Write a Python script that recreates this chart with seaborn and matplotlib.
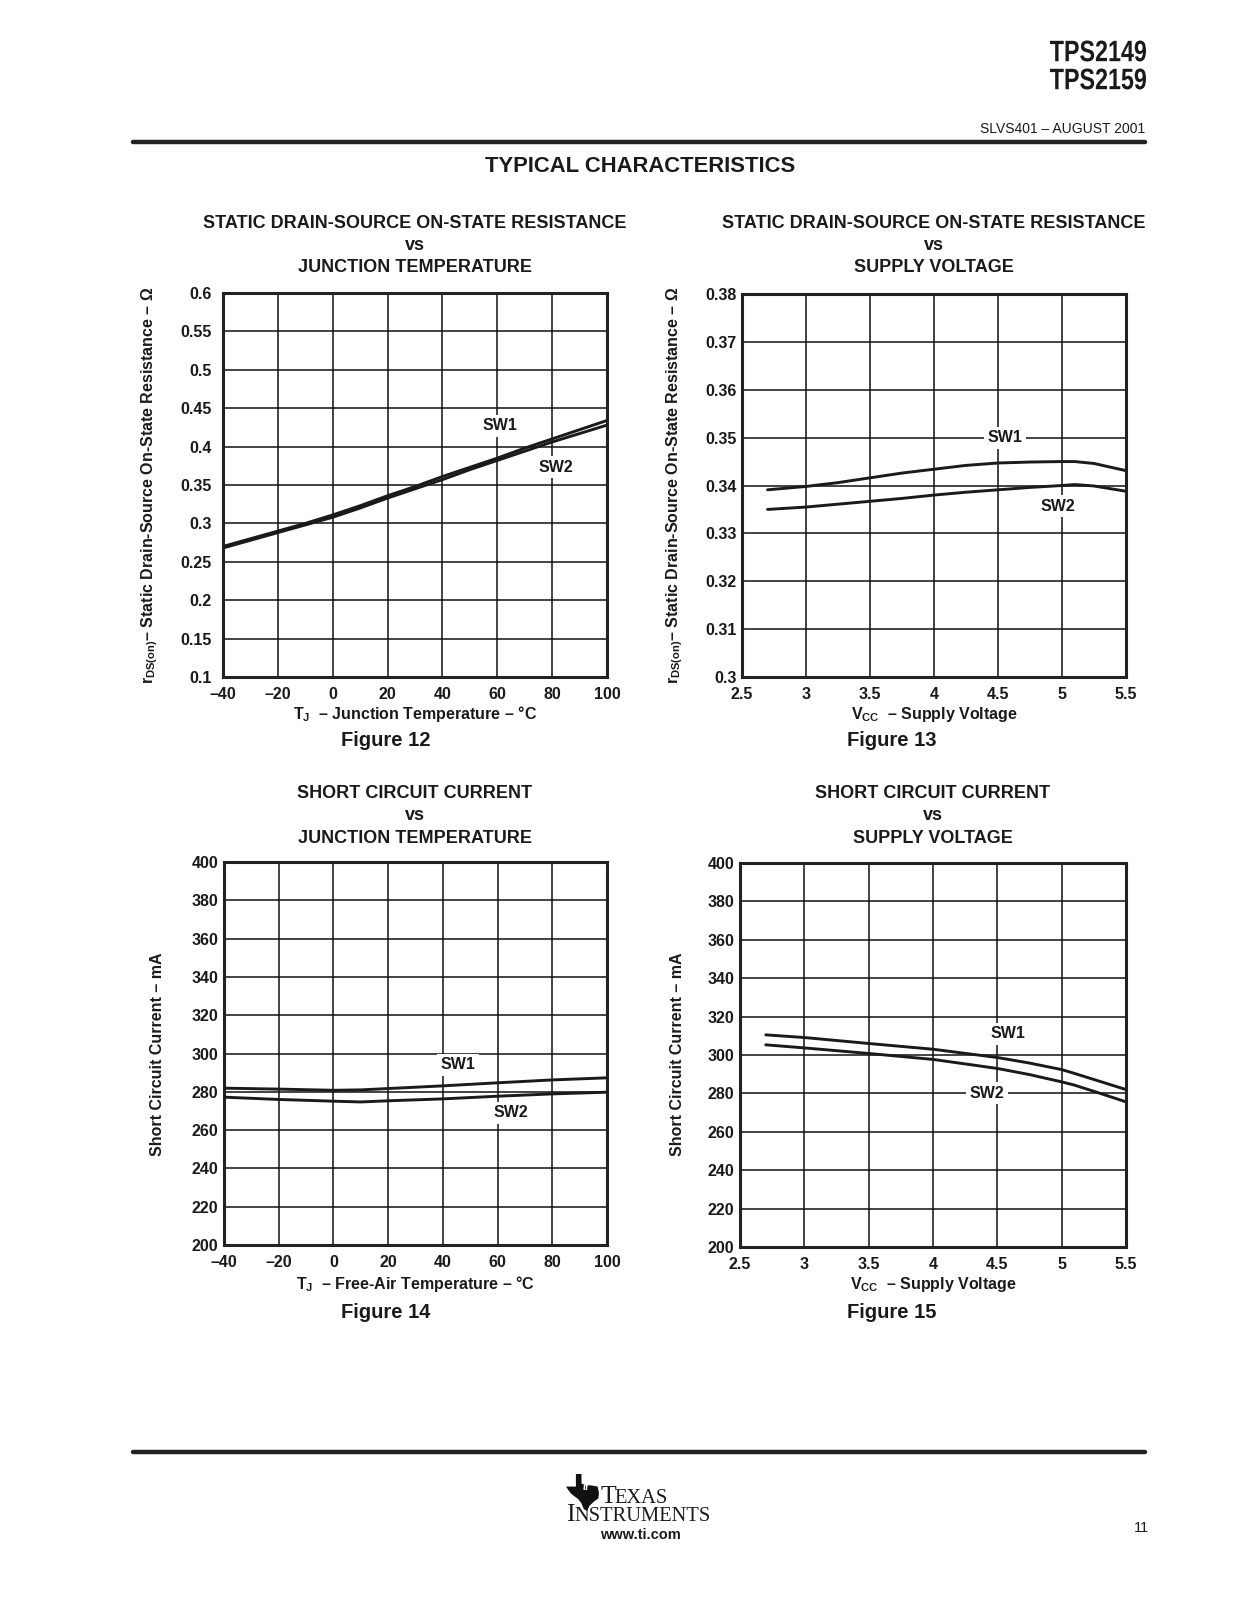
import matplotlib
matplotlib.use("Agg")
import matplotlib.pyplot as plt
from matplotlib.lines import Line2D
from matplotlib.patches import Polygon, PathPatch
from matplotlib.textpath import TextPath
from matplotlib.font_manager import FontProperties
from matplotlib.transforms import Affine2D, IdentityTransform
import seaborn as sns

# ---------------- data ----------------
# Figure 12: rDS(on) vs junction temperature
temp12 = [-40, -30, -20, -10, 0, 10, 20, 30, 40, 50, 60, 70, 80, 90, 100]
sw1_12 = [0.270, 0.280, 0.290, 0.300, 0.311, 0.323, 0.336, 0.348, 0.361, 0.373, 0.385, 0.398, 0.410, 0.422, 0.434]
sw2_12 = [0.268, 0.278, 0.288, 0.298, 0.308, 0.320, 0.333, 0.345, 0.357, 0.370, 0.382, 0.394, 0.406, 0.417, 0.428]

# Figure 13: rDS(on) vs supply voltage
vcc13 = [2.7, 3.0, 3.25, 3.5, 3.75, 4.0, 4.25, 4.5, 4.75, 5.0, 5.1, 5.25, 5.5]
sw1_13 = [0.3391, 0.3398, 0.3406, 0.3416, 0.3426, 0.3434, 0.3442, 0.3447, 0.3449, 0.3450, 0.3450, 0.3446, 0.3431]
sw2_13 = [0.3350, 0.3355, 0.3361, 0.3367, 0.3373, 0.3380, 0.3386, 0.3391, 0.3396, 0.3400, 0.3402, 0.3399, 0.3388]

# Figure 14: short circuit current vs temperature
temp14 = [-40, -20, 0, 10, 20, 40, 60, 80, 100]
sw1_14 = [281.9, 281.4, 280.8, 281.0, 281.7, 283.1, 284.7, 286.2, 287.3]
sw2_14 = [277.2, 276.0, 275.1, 274.7, 275.3, 276.3, 277.7, 278.9, 279.8]

# Figure 15: short circuit current vs supply voltage
vcc15 = [2.7, 3.0, 3.5, 4.0, 4.5, 4.75, 5.0, 5.1, 5.3, 5.5]
sw1_15 = [310.5, 309.1, 306.0, 303.0, 298.7, 295.8, 292.4, 290.4, 286.2, 282.0]
sw2_15 = [305.3, 303.7, 300.8, 297.7, 293.0, 289.8, 286.0, 284.3, 280.0, 275.6]

xticks_temp = [-40, -20, 0, 20, 40, 60, 80, 100]
xticklabels_temp = ["\u201340", "\u201320", "0", "20", "40", "60", "80", "100"]
xticks_vcc = [2.5, 3, 3.5, 4, 4.5, 5, 5.5]
xticklabels_vcc = ["2.5", "3", "3.5", "4", "4.5", "5", "5.5"]
yticks12 = [0.1, 0.15, 0.2, 0.25, 0.3, 0.35, 0.4, 0.45, 0.5, 0.55, 0.6]
yticklabels12 = ["0.1", "0.15", "0.2", "0.25", "0.3", "0.35", "0.4", "0.45", "0.5", "0.55", "0.6"]
yticks13 = [0.30, 0.31, 0.32, 0.33, 0.34, 0.35, 0.36, 0.37, 0.38]
yticklabels13 = ["0.3", "0.31", "0.32", "0.33", "0.34", "0.35", "0.36", "0.37", "0.38"]
yticks_isc = [200, 220, 240, 260, 280, 300, 320, 340, 360, 380, 400]
yticklabels_isc = [str(v) for v in yticks_isc]

# ---------------- style ----------------
sns.set_theme(style="white")
plt.rcParams["font.family"] = ["Liberation Sans", "DejaVu Sans"]
plt.rcParams["mathtext.fontset"] = "custom"
plt.rcParams["mathtext.rm"] = "Liberation Sans:bold"
plt.rcParams["mathtext.bf"] = "Liberation Sans:bold"
plt.rcParams["mathtext.it"] = "Liberation Sans:bold"

W, H = 1237, 1600
fig = plt.figure(figsize=(W / 100, H / 100), dpi=100)
fig.patch.set_facecolor("white")

def fx(px):
    return px / W

def fy(py):
    return 1 - py / H

INK = "#1a1a1a"
SANS = ["Liberation Sans", "DejaVu Sans"]
LAB = 11.5

def make_axes(l, t, r, b):
    return fig.add_axes([fx(l), fy(b), fx(r) - fx(l), (b - t) / H])

def style_axes(ax, xlim, ylim, xt, xtl, yt, ytl, ypad):
    ax.set_xlim(*xlim)
    ax.set_ylim(*ylim)
    ax.set_xticks(xt)
    ax.set_xticklabels(xtl)
    ax.set_yticks(yt)
    ax.set_yticklabels(ytl)
    ax.grid(True, color="#111111", linewidth=1.1)
    ax.set_axisbelow(True)
    for s in ax.spines.values():
        s.set_linewidth(2.2)
        s.set_color("#222222")
    ax.tick_params(axis="both", length=0, labelsize=11.5, colors=INK)
    ax.tick_params(axis="x", pad=7)
    ax.tick_params(axis="y", pad=ypad)
    for lab in ax.get_xticklabels() + ax.get_yticklabels():
        lab.set_fontweight("bold")
    ax.set_xlabel("")
    ax.set_ylabel("")

def draw(ax, x, y):
    sns.lineplot(x=x, y=y, ax=ax, color=INK, linewidth=2.1, zorder=5)

def tag(ax, x, y, s):
    ax.text(x, y, s, ha="center", va="center", fontsize=11.5, fontweight="bold",
            color=INK, zorder=4,
            bbox=dict(facecolor="white", edgecolor="none", pad=2.5))

def titles(cx, ys, lines):
    for yy, s in zip(ys, lines):
        fig.text(fx(cx), fy(yy), s, ha="center", va="center", fontsize=13,
                 fontweight="bold", color=INK, family=SANS)

def label(x, y, s, rot=0):
    fig.text(fx(x), fy(y), s, ha="center", va="center", rotation=rot, fontsize=LAB,
             fontweight="bold", color=INK, family=SANS)

def figlabel(x, y, s):
    fig.text(fx(x), fy(y), s, ha="center", va="center", fontsize=14.5,
             fontweight="bold", color=INK, family=SANS)

RDS = r"r$_{\mathbf{DS(on)}}$" + "\u2013 Static Drain-Source On-State Resistance \u2013 \u03a9"

# ---------------- Figure 12 ----------------
ax12 = make_axes(223, 293, 607, 677)
draw(ax12, temp12, sw1_12)
draw(ax12, temp12, sw2_12)
style_axes(ax12, (-40, 100), (0.1, 0.6), xticks_temp, xticklabels_temp,
           yticks12, yticklabels12, 8)
tag(ax12, 61, 0.427, "SW1")
tag(ax12, 81.5, 0.373, "SW2")
titles(415, [223, 245, 268], ["STATIC DRAIN-SOURCE ON-STATE RESISTANCE", "vs", "JUNCTION TEMPERATURE"])
label(415, 714, r"T$_{\mathbf{J}}$" + "  \u2013 Junction Temperature \u2013 \u00b0C")
label(150, 485, RDS, 90)
figlabel(386, 741, "Figure 12")

# ---------------- Figure 13 ----------------
ax13 = make_axes(742, 294, 1126, 677)
draw(ax13, vcc13, sw1_13)
draw(ax13, vcc13, sw2_13)
style_axes(ax13, (2.5, 5.5), (0.30, 0.38), xticks_vcc, xticklabels_vcc,
           yticks13, yticklabels13, 4)
tag(ax13, 4.555, 0.3500, "SW1")
tag(ax13, 4.965, 0.3357, "SW2")
titles(934, [223, 245, 268], ["STATIC DRAIN-SOURCE ON-STATE RESISTANCE", "vs", "SUPPLY VOLTAGE"])
label(934, 714, r"V$_{\mathbf{CC}}$" + "  \u2013 Supply Voltage")
label(675, 485, RDS, 90)
figlabel(892, 741, "Figure 13")

# ---------------- Figure 14 ----------------
ax14 = make_axes(224, 862, 607, 1245)
draw(ax14, temp14, sw1_14)
draw(ax14, temp14, sw2_14)
style_axes(ax14, (-40, 100), (200, 400), xticks_temp, xticklabels_temp,
           yticks_isc, yticklabels_isc, 4)
tag(ax14, 45.5, 294, "SW1")
tag(ax14, 65, 269, "SW2")
titles(415, [793, 816, 838], ["SHORT CIRCUIT CURRENT", "vs", "JUNCTION TEMPERATURE"])
label(415, 1284, r"T$_{\mathbf{J}}$" + "  \u2013 Free-Air Temperature \u2013 \u00b0C")
label(158, 1054, "Short Circuit Current \u2013 mA", 90)
figlabel(386, 1312, "Figure 14")

# ---------------- Figure 15 ----------------
ax15 = make_axes(740, 863, 1126, 1247)
draw(ax15, vcc15, sw1_15)
draw(ax15, vcc15, sw2_15)
style_axes(ax15, (2.5, 5.5), (200, 400), xticks_vcc, xticklabels_vcc,
           yticks_isc, yticklabels_isc, 4)
tag(ax15, 4.585, 311, "SW1")
tag(ax15, 4.42, 280, "SW2")
titles(933, [793, 816, 838], ["SHORT CIRCUIT CURRENT", "vs", "SUPPLY VOLTAGE"])
label(933, 1284, r"V$_{\mathbf{CC}}$" + "  \u2013 Supply Voltage")
label(677, 1054, "Short Circuit Current \u2013 mA", 90)
figlabel(892, 1312, "Figure 15")

# ---------------- page furniture ----------------
def narrow_text(s, right_px, baseline_px, width_px, cap_px):
    fp = FontProperties(family="Liberation Sans", weight="bold")
    tp = TextPath((0, 0), s, size=100, prop=fp)
    ext = tp.get_extents()
    tr = (Affine2D().translate(-ext.x1, -ext.y0)
          .scale(width_px / ext.width, cap_px / ext.height)
          .translate(right_px, H - baseline_px))
    patch = PathPatch(tr.transform_path(tp), facecolor=INK, edgecolor="none",
                      transform=IdentityTransform())
    fig.add_artist(patch)

narrow_text("TPS2149", 1146, 61.5, 96, 21)
narrow_text("TPS2159", 1146, 89.5, 96, 21)
fig.text(fx(1145), fy(129), "SLVS401 \u2013 AUGUST 2001", ha="right", va="center",
         fontsize=10, color=INK)
fig.add_artist(Line2D([fx(133), fx(1145)], [fy(142), fy(142)], lw=3.2, color="#222222"))
fig.text(fx(640), fy(167), "TYPICAL CHARACTERISTICS", ha="center", va="center",
         fontsize=15.8, fontweight="bold", color=INK)
fig.add_artist(Line2D([fx(133), fx(1145)], [fy(1452), fy(1452)], lw=3.2, color="#222222"))

# TI logo (approximate)
lx0, ly0, lw_, lh_ = 566, 1474, 33, 37
shape = [(0.30, 1.0), (0.47, 1.0), (0.47, 0.74), (0.60, 0.70), (0.78, 0.69), (0.96, 0.66),
         (1.0, 0.48), (0.98, 0.34), (0.84, 0.25), (0.70, 0.13), (0.64, 0.0), (0.54, 0.05),
         (0.46, 0.22), (0.36, 0.33), (0.25, 0.40), (0.14, 0.48), (0.0, 0.66), (0.30, 0.66)]
pts = [(fx(lx0 + u * lw_), fy(ly0 + (1 - v) * lh_)) for u, v in shape]
fig.add_artist(Polygon(pts, closed=True, facecolor="#111111", edgecolor="none",
                       transform=fig.transFigure))
SERIF = ["Liberation Serif", "DejaVu Serif"]
fig.text(fx(lx0 + 20), fy(ly0 + 14), "ti", ha="center", va="center", fontsize=8,
         fontweight="bold", style="italic", color="white", family=SERIF)
fig.text(fx(601), fy(1503), "T", ha="left", va="baseline", fontsize=18.5, color=INK, family=SERIF)
fig.text(fx(614), fy(1503), "EXAS", ha="left", va="baseline", fontsize=14.8, color=INK, family=SERIF)
fig.text(fx(566), fy(1521), "I", ha="left", va="baseline", fontsize=18.5, color=INK, family=SERIF)
fig.text(fx(574), fy(1521), "NSTRUMENTS", ha="left", va="baseline", fontsize=14.8, color=INK, family=SERIF)
fig.text(fx(640), fy(1535), "www.ti.com", ha="center", va="center", fontsize=10.5,
         fontweight="bold", color=INK)
fig.text(fx(1141), fy(1528), "11", ha="center", va="center", fontsize=10.5, color=INK)

fig.savefig("out.png", dpi=100, facecolor="white")
